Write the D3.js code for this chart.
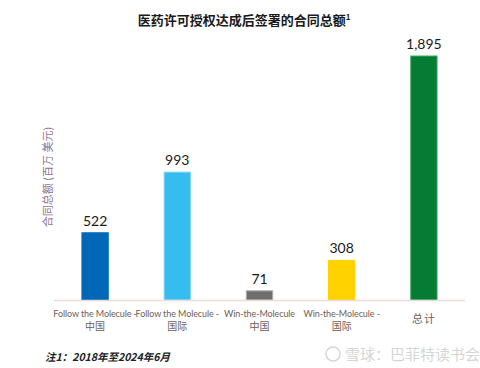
<!DOCTYPE html>
<html>
<head>
<meta charset="utf-8">
<script src="https://cdn.jsdelivr.net/npm/d3@7"></script>
<style>
  body { margin: 0; background: #fff; }
  svg { display: block; }
</style>
</head>
<body>
<div id="chart"></div>
<script>
var categories = ["fm_cn", "fm_intl", "wm_cn", "wm_intl", "total"];
var labelLine1 = ["Follow the Molecule -", "Follow the Molecule -", "Win-the-Molecule", "Win-the-Molecule -", "总计"];
var labelLine2 = ["中国", "国际", "中国", "国际", ""];
var values = [522, 993, 71, 308, 1895];
var colors = ["#0068b6", "#36bdf0", "#6e6e6e", "#ffd200", "#057b33"];
var strokes = ["#0068b6", "#7fd6f6", "#a8a8a8", "#ffd200", "#3fae62"];

var width = 480, height = 368;

var svg = d3.select("#chart")
	.append("svg")
	.attr("width", width)
	.attr("height", height);

var x = d3.scaleBand()
	.domain(categories)
	.range([54, 465])
	.paddingInner(0.68)
	.paddingOuter(0.34);

var y = d3.scaleLinear()
	.domain([0, 1895])
	.range([300, 56]);

// title
var title = svg.append("text")
	.attr("x", 244)
	.attr("y", 25)
	.attr("text-anchor", "middle")
	.style("font-family", "'Noto Sans CJK SC', sans-serif")
	.style("font-size", "13px")
	.style("font-weight", "bold")
	.style("fill", "#1a1a1a")
	.text("医药许可授权达成后签署的合同总额");
title.append("tspan")
	.attr("dy", -5)
	.style("font-size", "8px")
	.text("1");

// bars
svg.selectAll("rect.bar")
	.data(values)
	.enter().append("rect")
	.attr("class", "bar")
	.attr("x", function(d, i) { return x(categories[i]); })
	.attr("y", function(d) { return y(d); })
	.attr("width", x.bandwidth())
	.attr("height", function(d) { return y(0) - y(d); })
	.style("fill", function(d, i) { return colors[i]; })
	.style("stroke", function(d, i) { return strokes[i]; })
	.style("stroke-width", 1);

// baseline
svg.append("line")
	.attr("x1", 54)
	.attr("x2", 465)
	.attr("y1", y(0) + 0.5)
	.attr("y2", y(0) + 0.5)
	.style("stroke", "#eadcd8")
	.style("stroke-width", 1.5);

// value labels
svg.selectAll("text.value")
	.data(values)
	.enter().append("text")
	.attr("class", "value")
	.attr("x", function(d, i) { return x(categories[i]) + x.bandwidth() / 2; })
	.attr("y", function(d) { return y(d) - 7; })
	.attr("text-anchor", "middle")
	.style("font-family", "Lato, 'Liberation Sans', sans-serif")
	.style("font-size", "14px")
	.style("fill", "#1a1a1a")
	.text(function(d) { return d3.format(",")(d); });

// x labels
var xl = svg.selectAll("g.xlabel")
	.data(categories)
	.enter().append("g")
	.attr("class", "xlabel")
	.attr("transform", function(d) { return "translate(" + (x(d) + x.bandwidth() / 2) + ",0)"; });

xl.append("text")
	.attr("y", function(d, i) { return labelLine2[i] ? 317 : 323; })
	.attr("text-anchor", "middle")
	.style("font-family", "Lato, 'Noto Sans CJK SC', sans-serif")
	.style("font-size", function(d, i) { return labelLine2[i] ? "9px" : "11px"; })
	.style("letter-spacing", function(d, i) { return labelLine2[i] ? "-0.1px" : "1px"; })
	.style("fill", "#6f5e55")
	.text(function(d, i) { return labelLine1[i]; });

xl.append("text")
	.attr("y", 330)
	.attr("text-anchor", "middle")
	.style("font-family", "'Noto Sans CJK SC', sans-serif")
	.style("font-size", "10px")
	.style("fill", "#6f5e55")
	.text(function(d, i) { return labelLine2[i]; });

// y axis title
svg.append("text")
	.attr("transform", "translate(52,177) rotate(-90)")
	.attr("text-anchor", "middle")
	.style("font-family", "'Noto Sans CJK SC', sans-serif")
	.style("font-size", "11px")
	.style("fill", "#8e7596")
	.text("合同总额 (百万 美元)");

// footnote
svg.append("text")
	.attr("x", 45)
	.attr("y", 361)
	.style("font-family", "'Noto Sans CJK SC', sans-serif")
	.style("font-size", "10.5px")
	.style("font-style", "italic")
	.style("font-weight", "bold")
	.style("fill", "#222")
	.text("注1：2018年至2024年6月");

// watermark
svg.append("circle")
	.attr("cx", 333)
	.attr("cy", 354)
	.attr("r", 7)
	.style("fill", "none")
	.style("stroke", "#d6d6d6")
	.style("stroke-width", 1.5);
svg.append("text")
	.attr("x", 345)
	.attr("y", 360)
	.style("font-family", "'Noto Sans CJK SC', sans-serif")
	.style("font-size", "15px")
	.style("fill", "#d6d6d6")
	.text("雪球：巴菲特读书会");
</script>
</body>
</html>
